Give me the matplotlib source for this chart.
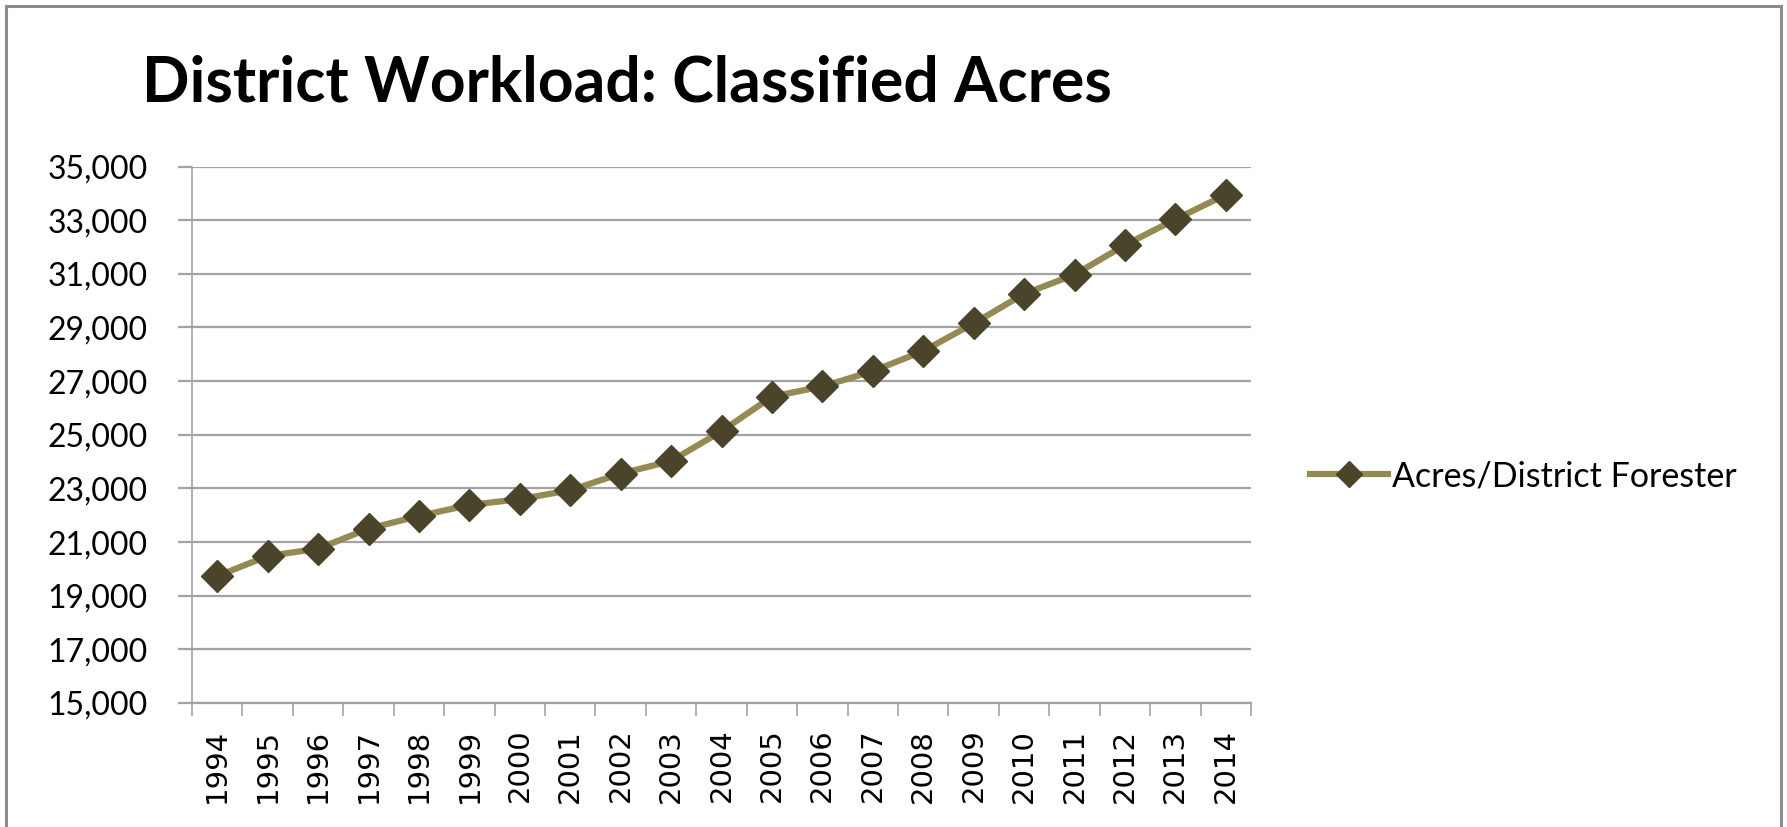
import matplotlib.pyplot as plt
import matplotlib.patches as patches
from matplotlib.ticker import FuncFormatter, FixedLocator

years = ['1994', '1995', '1996', '1997', '1998', '1999', '2000', '2001', '2002', '2003', '2004',
         '2005', '2006', '2007', '2008', '2009', '2010', '2011', '2012', '2013', '2014']
acres = [19730, 20480, 20750, 21500, 21970, 22380, 22600, 22930, 23550, 24020, 25130,
         26420, 26800, 27370, 28120, 29150, 30250, 30970, 32070, 33030, 33950]
y_ticks = list(range(15000, 35001, 2000))

grid_col = '#a3a3a3'
line_col = '#948a54'
marker_col = '#4a442a'

fig = plt.figure(figsize=(17.87, 8.27), dpi=100)
fig.patch.set_facecolor('white')

# chart border (bottom edge runs off the image like in the reference)
border = patches.Rectangle((6 / 1787, -0.05), 1775 / 1787, 1 - 6 / 827 + 0.05,
                           transform=fig.transFigure, fill=False,
                           edgecolor='#8c8c8c', linewidth=2.2, clip_on=False)
fig.patches.append(border)

fig.text(142 / 1787, 1 - 102 / 827, 'District Workload: Classified Acres',
         fontfamily='Lato', fontweight='bold', fontsize=45, color='black',
         ha='left', va='baseline')

ax = fig.add_axes([192 / 1787, 1 - 703 / 827, (1251 - 192) / 1787, (703 - 166.5) / 827])
x = list(range(len(years)))
ax.plot(x, acres, color=line_col, linewidth=4.5, marker='D', markersize=16,
        markerfacecolor=marker_col, markeredgecolor=marker_col, markeredgewidth=1,
        label='Acres/District Forester', zorder=3)

ax.set_xlim(-0.5, len(years) - 0.5)
ax.set_ylim(15000, 35000)
ax.set_yticks(y_ticks)
ax.yaxis.set_major_formatter(FuncFormatter(lambda v, p: f'{int(v):,}'))
ax.grid(axis='y', color=grid_col, linewidth=1.6)
ax.set_axisbelow(True)

ax.set_xticks(x)
ax.set_xticklabels(years, rotation=90, fontfamily='DejaVu Sans', fontsize=21)
ax.xaxis.set_minor_locator(FixedLocator([i - 0.5 for i in range(len(years) + 1)]))
ax.tick_params(axis='x', which='major', length=0, pad=18.5)
ax.tick_params(axis='x', which='minor', length=9, width=1.2, color=grid_col)
ax.tick_params(axis='y', length=10, width=1.6, color=grid_col, pad=22)
for lbl in ax.get_yticklabels():
    lbl.set_fontfamily('Lato')
    lbl.set_fontsize(23)

for side in ['top', 'right']:
    ax.spines[side].set_visible(False)
ax.spines['left'].set_color(grid_col)
ax.spines['left'].set_linewidth(1.2)
ax.spines['bottom'].set_color(grid_col)
ax.spines['bottom'].set_linewidth(1.6)

leg = ax.legend(loc='center left', bbox_to_anchor=(1.043, 0.423), frameon=False,
                prop={'family': 'Lato', 'size': 24.5}, handlelength=2.3,
                handletextpad=0.1, borderaxespad=0, markerscale=0.85)

plt.savefig('out.png', dpi=100)
